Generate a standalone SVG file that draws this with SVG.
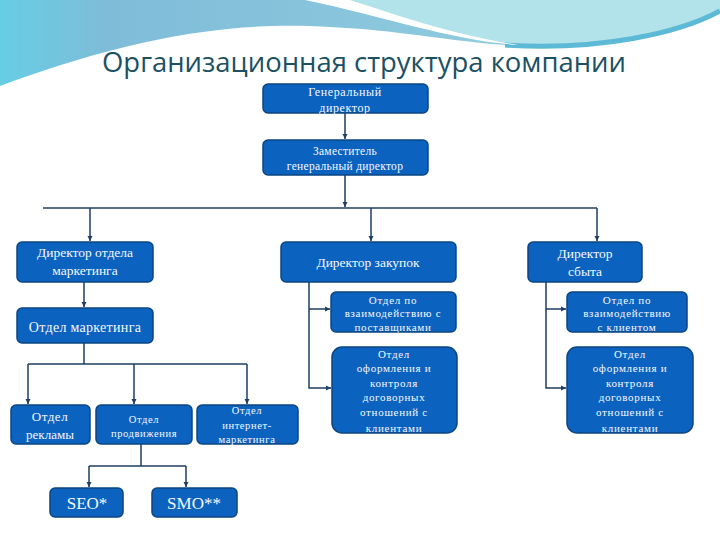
<svg xmlns="http://www.w3.org/2000/svg" width="720" height="540" viewBox="0 0 720 540">
<defs>
<linearGradient id="bg" x1="0" y1="0" x2="1" y2="0">
<stop offset="0" stop-color="#66cde4"/>
<stop offset="0.15" stop-color="#7fbcd8"/>
<stop offset="0.6" stop-color="#8cc8dd"/>
<stop offset="1" stop-color="#a9dde6"/>
</linearGradient>
<marker id="ar" markerWidth="6" markerHeight="6" refX="5" refY="3" orient="auto" markerUnits="userSpaceOnUse">
<path d="M0,0.5 L5,3 L0,5.5 Z" fill="#1c3f63"/>
</marker>
<style>
.box{fill:#0c63bf;stroke:#0b4683;stroke-width:1.5}
.t{font-family:"Liberation Serif","DejaVu Serif",serif;font-weight:normal;fill:#f4f8ff;text-anchor:middle}
.s{font-size:11px;letter-spacing:0.7px}
.m{font-size:13.5px}
.c{fill:none;stroke:#1c3f63;stroke-width:1.5}
</style>
</defs>
<rect width="720" height="540" fill="#ffffff"/>
<g id="background">
<path d="M0,0 H720 V10 C690,30 600,50 520,46 C450,42 400,30 330,27 C250,22 150,30 0,86 Z" fill="url(#bg)"/>
<path d="M320,0 C385,16 450,40 520,44 C600,48 680,30 720,8 V0 Z" fill="#b2e2ea"/>
<path d="M505,45 C600,51 680,33 720,11" fill="none" stroke="#5dbad6" stroke-width="5"/>
<path d="M305,0 C390,18 450,40 518,45 C450,34 400,16 350,0 Z" fill="#ffffff"/>
</g>
<text x="364" y="72" font-family="'Open Sans','Noto Sans',sans-serif" font-size="27" fill="#1b5163" text-anchor="middle" textLength="524" lengthAdjust="spacingAndGlyphs">Организационная структура компании</text>
<g id="connectors">
<path class="c" d="M345,113 V139" marker-end="url(#ar)"/>
<path class="c" d="M345,175 V207" marker-end="url(#ar)"/>
<path class="c" d="M43,208 H597"/>
<path class="c" d="M90,208 V241" marker-end="url(#ar)"/>
<path class="c" d="M371,208 V241" marker-end="url(#ar)"/>
<path class="c" d="M597,208 V241" marker-end="url(#ar)"/>
<path class="c" d="M84,282 V307" marker-end="url(#ar)"/>
<path class="c" d="M84,343 V364"/>
<path class="c" d="M28,364 H247"/>
<path class="c" d="M28,364 V404" marker-end="url(#ar)"/>
<path class="c" d="M134,364 V404" marker-end="url(#ar)"/>
<path class="c" d="M247,364 V404" marker-end="url(#ar)"/>
<path class="c" d="M141,444 V466"/>
<path class="c" d="M89,466 H186"/>
<path class="c" d="M89,466 V487" marker-end="url(#ar)"/>
<path class="c" d="M186,466 V487" marker-end="url(#ar)"/>
<path class="c" d="M309,282 V388 H331" marker-end="url(#ar)"/>
<path class="c" d="M309,309 H330" marker-end="url(#ar)"/>
<path class="c" d="M546,282 V388 H566" marker-end="url(#ar)"/>
<path class="c" d="M546,309 H566" marker-end="url(#ar)"/>
</g>
<g id="gen">
<rect class="box" x="263" y="84" width="165" height="29" rx="5"/>
<text class="t" x="345" y="96" font-size="12" letter-spacing="0.6">Генеральный</text>
<text class="t" x="345" y="112" font-size="12" letter-spacing="0.6">директор</text>
</g>
<g id="zam">
<rect class="box" x="263" y="140" width="165" height="35" rx="5"/>
<text class="t" x="345" y="155" font-size="11.5" letter-spacing="0.3">Заместитель</text>
<text class="t" x="345" y="170" font-size="11.5" letter-spacing="0.3">генеральный директор</text>
</g>
<g id="dir-marketing">
<rect class="box" x="17" y="242" width="136" height="40" rx="5"/>
<text class="t m" x="85" y="257">Директор отдела</text>
<text class="t m" x="85" y="275">маркетинга</text>
</g>
<g id="dir-zakupok">
<rect class="box" x="281" y="242" width="175" height="40" rx="5"/>
<text class="t m" x="368" y="267">Директор закупок</text>
</g>
<g id="dir-sbyta">
<rect class="box" x="528" y="242" width="114" height="40" rx="5"/>
<text class="t m" x="585" y="258">Директор</text>
<text class="t m" x="585" y="276">сбыта</text>
</g>
<g id="otdel-marketinga">
<rect class="box" x="17" y="308" width="136" height="35" rx="5"/>
<text class="t" x="85" y="332" font-size="14" letter-spacing="0.3">Отдел маркетинга</text>
</g>
<g id="reklama">
<rect class="box" x="11" y="405" width="79" height="39" rx="5"/>
<text class="t" x="50" y="421" font-size="13" letter-spacing="0.5">Отдел</text>
<text class="t" x="50" y="439" font-size="13">рекламы</text>
</g>
<g id="prodvizhenie">
<rect class="box" x="96" y="405" width="96" height="39" rx="5"/>
<text class="t" x="144" y="423" font-size="10.5" letter-spacing="0.6">Отдел</text>
<text class="t" x="144" y="437" font-size="10.5" letter-spacing="0.6">продвижения</text>
</g>
<g id="internet">
<rect class="box" x="197" y="405" width="101" height="39" rx="5"/>
<text class="t" x="247" y="414" font-size="10.5" letter-spacing="0.6">Отдел</text>
<text class="t" x="247" y="429" font-size="10.5" letter-spacing="0.6">интернет-</text>
<text class="t" x="247" y="443" font-size="10.5" letter-spacing="0.6">маркетинга</text>
</g>
<g id="seo">
<rect class="box" x="50" y="488" width="73" height="29" rx="5"/>
<text class="t" x="87" y="509" font-size="17">SEO*</text>
</g>
<g id="smo">
<rect class="box" x="152" y="488" width="85" height="29" rx="5"/>
<text class="t" x="194" y="509" font-size="17">SMO**</text>
</g>
<g id="postavshiki">
<rect class="box" x="331" y="292" width="125" height="40" rx="5"/>
<text class="t s" x="393" y="304">Отдел по</text>
<text class="t s" x="393" y="317">взаимодействию с</text>
<text class="t s" x="393" y="331">поставщиками</text>
</g>
<g id="oformlenie-1">
<rect class="box" x="332" y="347" width="125" height="86" rx="10"/>
<text class="t s" x="394" y="358">Отдел</text>
<text class="t s" x="394" y="372">оформления и</text>
<text class="t s" x="394" y="387">контроля</text>
<text class="t s" x="394" y="401">договорных</text>
<text class="t s" x="394" y="416">отношений с</text>
<text class="t s" x="394" y="432">клиентами</text>
</g>
<g id="klient">
<rect class="box" x="567" y="292" width="120" height="40" rx="5"/>
<text class="t s" x="627" y="304">Отдел по</text>
<text class="t s" x="627" y="317">взаимодействию</text>
<text class="t s" x="627" y="331">с клиентом</text>
</g>
<g id="oformlenie-2">
<rect class="box" x="567" y="347" width="126" height="86" rx="10"/>
<text class="t s" x="630" y="358">Отдел</text>
<text class="t s" x="630" y="372">оформления и</text>
<text class="t s" x="630" y="387">контроля</text>
<text class="t s" x="630" y="401">договорных</text>
<text class="t s" x="630" y="416">отношений с</text>
<text class="t s" x="630" y="432">клиентами</text>
</g>
</svg>
